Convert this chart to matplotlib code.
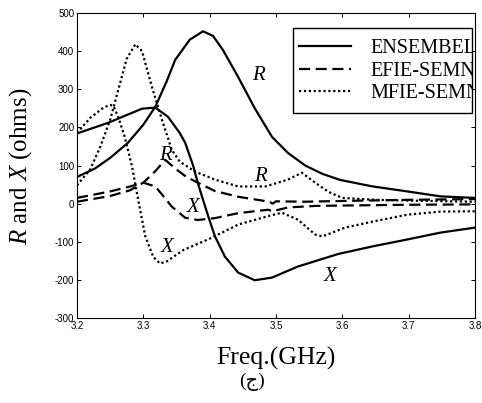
import matplotlib
matplotlib.use("Agg")
import matplotlib.pyplot as plt
from matplotlib.patches import Rectangle
from matplotlib.transforms import Bbox, TransformedBbox

plt.rcParams['mathtext.fontset'] = 'custom'
plt.rcParams['mathtext.rm'] = 'Liberation Serif'
plt.rcParams['mathtext.it'] = 'Liberation Serif:italic'

# ---- data ----
ens_R_f = [3.20, 3.227, 3.25, 3.277, 3.30, 3.318, 3.335, 3.348, 3.37, 3.39, 3.405, 3.42,
           3.443, 3.468, 3.494, 3.518, 3.544, 3.57, 3.597, 3.646, 3.698, 3.748, 3.80]
ens_R = [70, 92, 120, 160, 207, 254, 320, 377, 430, 452, 440, 403,
         332, 250, 175, 133, 100, 78, 62, 45, 32, 19, 15]

ens_X_f = [3.20, 3.247, 3.298, 3.318, 3.337, 3.355, 3.363, 3.375, 3.382, 3.39, 3.398, 3.408,
           3.423, 3.443, 3.468, 3.494, 3.533, 3.594, 3.646, 3.698, 3.748, 3.80]
ens_X = [184, 212, 249, 252, 228, 185, 160, 100, 55, 10, -34, -86,
         -139, -181, -201, -194, -165, -132, -112, -94, -76, -63]

efie_R_f = [3.20, 3.25, 3.28, 3.30, 3.318, 3.333, 3.348, 3.365, 3.382, 3.408, 3.443,
            3.49, 3.495, 3.50, 3.544, 3.60, 3.70, 3.80]
efie_R = [5, 20, 35, 55, 85, 115, 92, 70, 55, 33, 18, 5, 0, 6, 5, 7, 10, 12]

efie_X_f = [3.20, 3.25, 3.28, 3.30, 3.318, 3.33, 3.343, 3.363, 3.382, 3.408, 3.443,
            3.488, 3.495, 3.518, 3.56, 3.60, 3.70, 3.80]
efie_X = [15, 32, 45, 55, 45, 20, -8, -37, -43, -38, -25, -16, -20, -10, -6, -5, -3, -2]

mfie_R_f = [3.20, 3.22, 3.235, 3.25, 3.265, 3.275, 3.288, 3.298, 3.313, 3.328, 3.343,
            3.355, 3.378, 3.408, 3.443, 3.484, 3.518, 3.539, 3.559, 3.58, 3.60, 3.65,
            3.70, 3.80]
mfie_R = [48, 90, 149, 220, 316, 380, 418, 400, 306, 220, 141, 110, 84, 63, 45, 45,
          63, 81, 55, 30, 15, 10, 8, 5]

mfie_X_f = [3.20, 3.22, 3.24, 3.25, 3.255, 3.262, 3.272, 3.283, 3.288, 3.293, 3.303,
            3.315, 3.325, 3.335, 3.36, 3.40, 3.443, 3.494, 3.509, 3.533, 3.559, 3.57,
            3.604, 3.646, 3.698, 3.748, 3.80]
mfie_X = [185, 225, 252, 259, 256, 228, 175, 97, 50, 3, -86, -140, -157, -152, -122,
          -92, -55, -30, -24, -42, -81, -86, -63, -47, -29, -21, -20]

legend_labels = ["ENSEMBEL", "EFIE-SEMN", "MFIE-SEMN"]
xticks = [3.2, 3.3, 3.4, 3.5, 3.6, 3.7, 3.8]
yticks = [-300, -200, -100, 0, 100, 200, 300, 400, 500]

# ---- figure ----
W, H = 482, 403
fig = plt.figure(figsize=(W / 100, H / 100), dpi=100)
ax = fig.add_axes([77 / W, 1 - 318 / H, (475 - 77) / W, (318 - 13) / H])

solid = dict(color='black', lw=1.6, ls='-')
dashed = dict(color='black', lw=1.6, ls=(0, (5, 2.5)))
dotted = dict(color='black', lw=1.6, ls=(0, (1, 1.2)))

h1, = ax.plot(ens_R_f, ens_R, **solid)
ax.plot(ens_X_f, ens_X, **solid)
h2, = ax.plot(efie_R_f, efie_R, **dashed)
ax.plot(efie_X_f, efie_X, **dashed)
h3, = ax.plot(mfie_R_f, mfie_R, **dotted)
ax.plot(mfie_X_f, mfie_X, **dotted)

ax.set_xlim(3.2, 3.8)
ax.set_ylim(-300, 500)
ax.set_xticks(xticks)
ax.set_yticks(yticks)
ax.set_xticklabels([f"{t:.1f}" for t in xticks])
ax.set_yticklabels([str(t) for t in yticks])
ax.tick_params(direction='in', length=3, width=0.7, top=True, right=True,
               labelsize=7, pad=2)
for lab in ax.get_xticklabels() + ax.get_yticklabels():
    lab.set_fontfamily('Liberation Sans')
for s in ax.spines.values():
    s.set_linewidth(0.8)

# annotations
ann = dict(fontsize=15, fontstyle='italic', family='Liberation Serif',
           ha='center', va='center')
ax.text(3.473, 335, "R", **ann)
ax.text(3.333, 125, "R", **ann)
ax.text(3.476, 70, "R", **ann)
ax.text(3.375, -10, "X", **ann)
ax.text(3.336, -115, "X", **ann)
ax.text(3.582, -190, "X", **ann)

# legend box
bx0, bx1 = (293 - 77) / 398, (472 - 77) / 398
by0, by1 = (318 - 113) / 305, (318 - 28) / 305
ax.add_patch(Rectangle((bx0, by0), bx1 - bx0, by1 - by0, transform=ax.transAxes,
                       fill=True, facecolor='white', edgecolor='black', lw=1.0, zorder=5))
leg = ax.legend([h1, h2, h3], legend_labels, loc='upper left',
                bbox_to_anchor=((295 - 77) / 398, (318 - 35) / 305),
                frameon=False, borderaxespad=0, borderpad=0.2,
                handlelength=2.6, handletextpad=0.95, labelspacing=0.17,
                prop={'family': 'Liberation Serif', 'size': 14.5})
leg.set_zorder(6)
clip = TransformedBbox(Bbox([[bx0, by0], [bx1, by1]]), ax.transAxes)
for t in leg.get_texts():
    t.set_clip_box(clip)
    t.set_clip_on(True)

# axis labels
fig.text(276 / W, 1 - 358 / H, "Freq.(GHz)", ha='center', va='center',
         family='Liberation Serif', fontsize=18.5)
fig.text(21 / W, 1 - 166 / H, "$R$ and $X$ (ohms)", ha='center', va='center',
         rotation=90, family='Liberation Serif', fontsize=18)
fig.text(252 / W, 1 - 382 / H, "(ج)", ha='center', va='center',
         family=['Liberation Serif', 'DejaVu Sans'], fontsize=14)

fig.savefig("out.png", dpi=100)
